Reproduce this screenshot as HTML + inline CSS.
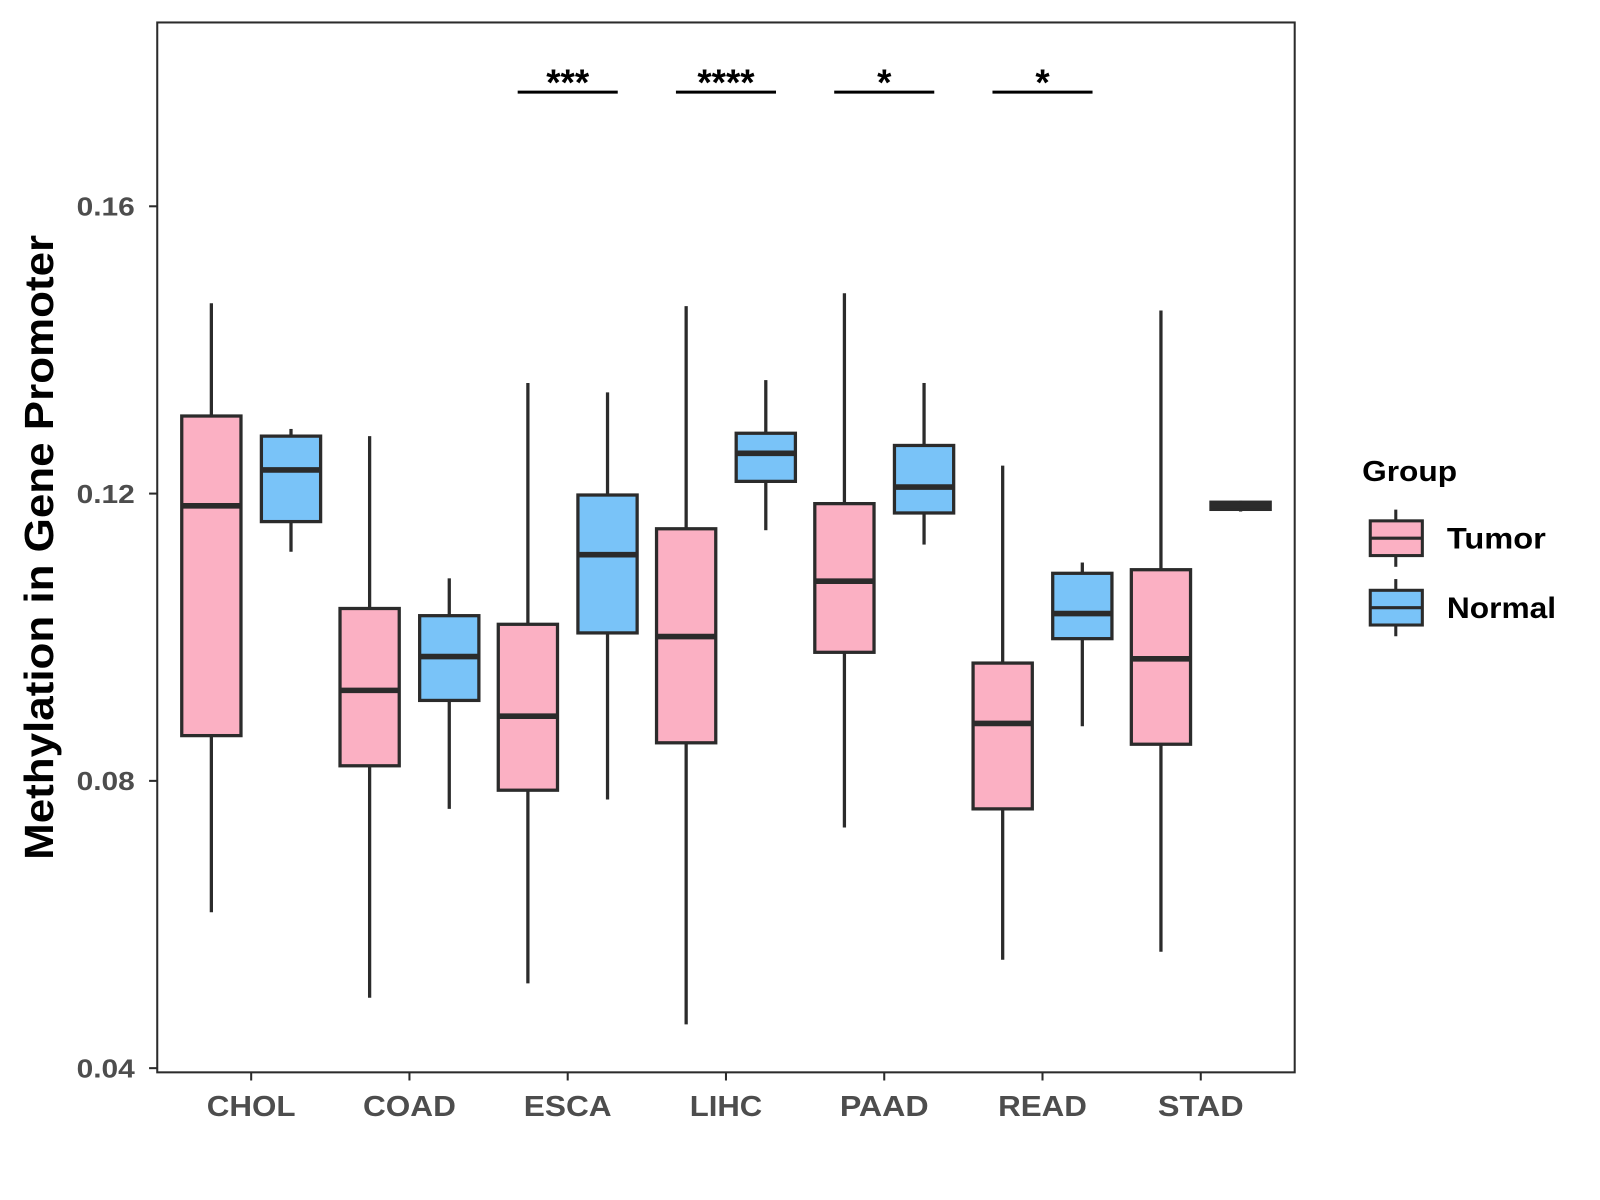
<!DOCTYPE html>
<html><head><meta charset="utf-8"><style>
html,body{margin:0;padding:0;background:#fff;}
svg{display:block;font-family:"Liberation Sans",Arial,sans-serif;}
</style></head><body>
<svg id="chart" width="1600" height="1200" viewBox="0 0 1567 1175" preserveAspectRatio="none" xmlns="http://www.w3.org/2000/svg">
<rect x="0" y="0" width="1567" height="1175" fill="#fff"/>
<g id="plot"></g>
</svg>
<script>
const categories = ["CHOL","COAD","ESCA","LIHC","PAAD","READ","STAD"];
const groups = ["Tumor","Normal"];
// [low, q1, median, q3, high]
const tumorStats = [
 [0.0617,0.0863,0.1183,0.1308,0.1465],
 [0.0498,0.0821,0.0926,0.1040,0.1280],
 [0.0518,0.0787,0.0890,0.1018,0.1354],
 [0.0461,0.0853,0.1001,0.1151,0.1461],
 [0.0735,0.0979,0.1078,0.1186,0.1479],
 [0.0551,0.0761,0.0880,0.0964,0.1239],
 [0.0562,0.0851,0.0970,0.1094,0.1455]
];
const normalStats = [
 [0.1119,0.1161,0.1233,0.1280,0.1290],
 [0.0761,0.0912,0.0973,0.1030,0.1082],
 [0.0774,0.1006,0.1115,0.1198,0.1341],
 [0.1149,0.1217,0.1256,0.1284,0.1358],
 [0.1129,0.1173,0.1209,0.1267,0.1354],
 [0.0876,0.0998,0.1033,0.1089,0.1104],
 [0.1175,0.1178,0.1183,0.1188,0.1190]
];
const yTicks = [0.04,0.08,0.12,0.16];
const yTickLabels = ["0.04","0.08","0.12","0.16"];
const sigCategories = ["ESCA","LIHC","PAAD","READ"];
const sigLabels = ["***","****","*","*"];
const sigLevel = 0.1759;

const NS="http://www.w3.org/2000/svg";
const g=document.getElementById('plot');
const P={l:154,r:1268,t:22,b:1050};
const labelW={CHOL:87,COAD:91,ESCA:86,LIHC:71,PAAD:87,READ:87,STAD:84};
function yS(v){return 202+(0.16-v)/0.04*281.3;}
function xS(c){return 246+categories.indexOf(c)*155;}
function mk(tag,attrs,parent){const e=document.createElementNS(NS,tag);for(const k in attrs)e.setAttribute(k,attrs[k]);(parent||g).appendChild(e);return e;}
const colors={Tumor:"#FBB0C3",Normal:"#79C3F8"};
const stroke="#2b2b2b";
function box(cx,s,col,w,parent){
  mk('line',{x1:cx,x2:cx,y1:yS(s[4]),y2:yS(s[3]),stroke:stroke,'stroke-width':3.2},parent);
  mk('line',{x1:cx,x2:cx,y1:yS(s[1]),y2:yS(s[0]),stroke:stroke,'stroke-width':3.2},parent);
  mk('rect',{x:cx-w/2,y:yS(s[3]),width:w,height:Math.max(yS(s[1])-yS(s[3]),0.5),fill:col,stroke:stroke,'stroke-width':3.2},parent);
  mk('line',{x1:cx-w/2,x2:cx+w/2,y1:yS(s[2]),y2:yS(s[2]),stroke:stroke,'stroke-width':5.5},parent);
}
categories.forEach((c,i)=>{
  const gt=mk('g',{});
  
  
  box(xS(c)-39,tumorStats[i],colors.Tumor,58,gt);
  const gn=mk('g',{});
  
  
  box(xS(c)+39,normalStats[i],colors.Normal,58,gn);
  mk('line',{x1:xS(c),x2:xS(c),y1:P.b,y2:P.b+8,stroke:stroke,'stroke-width':2});
  const tl=mk('text',{x:xS(c),y:1093,'text-anchor':'middle','font-size':28,'font-weight':'bold',fill:'#4d4d4d',textLength:labelW[c]||c.length*21.5,lengthAdjust:'spacingAndGlyphs'});
  tl.textContent=c;
  
  
});
yTicks.forEach((v,i)=>{
  mk('line',{x1:P.l-8,x2:P.l,y1:yS(v),y2:yS(v),stroke:stroke,'stroke-width':2});
  const t=mk('text',{x:P.l-22,y:yS(v)+9,'text-anchor':'end','font-size':25,'font-weight':'bold',fill:'#4d4d4d',textLength:57,lengthAdjust:'spacingAndGlyphs'});
  t.textContent=yTickLabels[i];
  
  
});
sigCategories.forEach((c,i)=>{
  const sg=mk('g',{});
  
  
  mk('line',{x1:xS(c)-49,x2:xS(c)+49,y1:yS(sigLevel),y2:yS(sigLevel),stroke:'#000','stroke-width':3},sg);
  const t=mk('text',{x:xS(c),y:yS(sigLevel)+3,'text-anchor':'middle','font-size':36,'font-weight':'bold',fill:'#000'},sg);
  t.textContent=sigLabels[i];
});
const fr=mk('rect',{x:P.l,y:P.t,width:P.r-P.l,height:P.b-P.t,fill:'none',stroke:stroke,'stroke-width':2});


const yt=mk('text',{x:0,y:0,transform:'translate(52,536) rotate(-90)','text-anchor':'middle','font-size':40,'font-weight':'bold',fill:'#000',textLength:612,lengthAdjust:'spacingAndGlyphs'});
yt.textContent='Methylation in Gene Promoter';


const lg=mk('g',{});


const lt=mk('text',{x:1334,y:471,'font-size':28,'font-weight':'bold',fill:'#000',textLength:93,lengthAdjust:'spacingAndGlyphs'},lg);
lt.textContent='Group';
const legW={Tumor:97,Normal:107};
groups.forEach((gname,i)=>{
  const e=mk('g',{},lg);
  
  
  const cy=527+i*68;
  mk('line',{x1:1367,x2:1367,y1:cy-28,y2:cy+28,stroke:stroke,'stroke-width':3},e);
  mk('rect',{x:1342,y:cy-17,width:51,height:34,fill:colors[gname],stroke:stroke,'stroke-width':3},e);
  mk('line',{x1:1342,x2:1393,y1:cy,y2:cy,stroke:stroke,'stroke-width':3},e);
  const t=mk('text',{x:1417,y:cy+10,'font-size':29,'font-weight':'bold',fill:'#000',textLength:legW[gname],lengthAdjust:'spacingAndGlyphs'},e);
  t.textContent=gname;
});
</script>
</body></html>
